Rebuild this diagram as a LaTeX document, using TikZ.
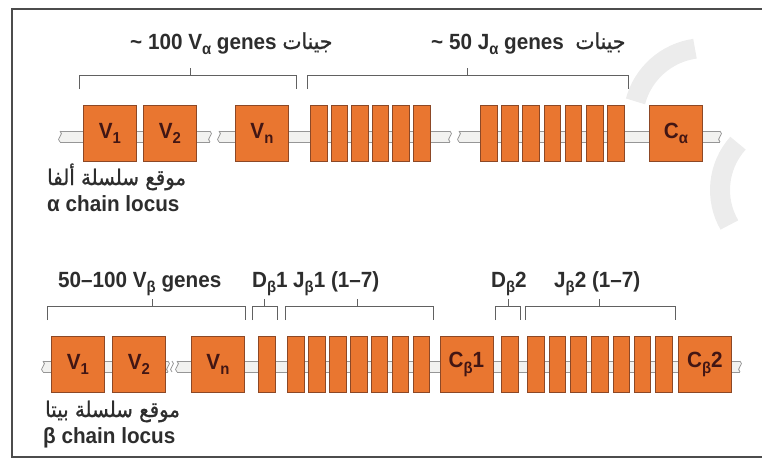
\documentclass[tikz,border=0pt]{standalone}
\usepackage{fontspec}
\usepackage{graphicx}
\setmainfont{Liberation Sans}[UprightFont=* Bold, FakeStretch=0.94]
\newfontfamily\arabicfont[Script=Arabic, FakeBold=1, FakeStretch=0.92]{DejaVu Sans}
\TeXXeTstate=1

\definecolor{geneorange}{RGB}{233,118,48}
\definecolor{geneedge}{RGB}{140,72,38}
\definecolor{labelink}{RGB}{66,22,20}
\definecolor{inkgray}{RGB}{45,45,45}
\definecolor{strandgray}{RGB}{150,150,150}
\definecolor{strandfill}{RGB}{242,242,240}
\definecolor{markgray}{RGB}{236,236,236}

% lowered, smaller index used in gene names
\newcommand\lsub[1]{\raisebox{-0.24em}{\scalebox{0.72}{#1}}}
% Arabic run inside a label
\newcommand\ar[1]{{\arabicfont\beginR #1\endR}}

% one stretch of DNA between x1 and x2, band from yt to yb, with broken ends
\newcommand\dnaseg[4]{%
  \fill[strandfill] (#1,#3) rectangle (#2,#4);
  \draw[strand] (#1,#3) -- (#2,#3) (#1,#4) -- (#2,#4);
  \draw[strand] (#1,#3) .. controls (#1+5,#3+3) and (#1-5,#4-3) .. (#1,#4);
  \draw[strand] (#2,#3) .. controls (#2+5,#3+3) and (#2-5,#4-3) .. (#2,#4);
}
% bracket over a gene group, with a tick in the middle
\newcommand\genebracket[4]{%
  \draw[bracket] (#1,#4+14) -- (#1,#4) -- (#2,#4) -- (#2,#4+14) (#3,#4) -- (#3,#4-7);
}

\begin{document}
\begin{tikzpicture}[x=1pt,y=-1pt,
  strand/.style={draw=strandgray, line width=0.8pt},
  bracket/.style={draw=inkgray!75, line width=0.9pt},
  gene/.style={draw=geneedge, fill=geneorange, line width=0.8pt, inner sep=0pt,
    minimum width=53pt, minimum height=56pt, anchor=north west,
    text=labelink, font=\fontsize{22}{22}\selectfont},
  seg/.style={gene, minimum width=16.5pt},
  lbl/.style={anchor=base west, inner sep=0pt, text=inkgray,
    font=\fontsize{22}{22}\selectfont},
  arlbl/.style={anchor=base west, inner sep=0pt, text=inkgray,
    font=\fontsize{21.5}{21.5}\selectfont},
  framel/.style={draw=inkgray!85, line width=1.3pt},
  watermark/.style={draw=markgray, line width=20pt}]
\useasboundingbox (0,0) rectangle (762,459);

% faint logo marks
\draw[watermark] (705,120) ++(195:72) arc[start angle=195, end angle=262, radius=72];
\draw[watermark] (790,190) ++(222:70) arc[start angle=222, end angle=150, radius=70];

% frame
\draw[framel] (762,9) -- (12,9) -- (12,457) -- (762,457);

% ---------- alpha chain locus ----------
\dnaseg{60}{210}{131}{142}
\dnaseg{219}{450}{131}{142}
\dnaseg{459}{720}{131}{142}

\node[gene] (av1) at (83,105) {V\lsub{1}};
\node[gene] (av2) at (143,105) {V\lsub{2}};
\node[gene] (avn) at (235,105) {V\lsub{n}};
\foreach \i/\x in {1/310,2/330.6,3/351.2,4/371.8,5/392.4,6/413}
  \node[seg] (aj\i) at (\x,105) {};
\foreach \i/\x in {7/480,8/501.2,9/522.4,10/543.6,11/564.8,12/586,13/607.2}
  \node[seg] (aj\i) at (\x,105) {};
\node[gene] (aca) at (649,105) {C\lsub{α}};

\genebracket{79}{296}{190}{75}
\genebracket{307}{628}{467}{75}

\node[lbl] (avlab) at (130,49) {\textasciitilde\ 100 V\lsub{α} genes \ar{جينات}};
\node[lbl] (ajlab) at (431,49) {\textasciitilde\ 50 J\lsub{α} genes\ \ \ar{جينات}};

\node[arlbl] (aloc1) at (47,185) {\ar{موقع سلسلة ألفا}};
\node[lbl] (aloc2) at (47,211) {α chain locus};

% ---------- beta chain locus ----------
\dnaseg{43}{168}{361}{372}
\dnaseg{177}{740}{361}{372}
\draw[strand] (172,361) .. controls (177,364) and (167,369) .. (172,372);

\node[gene] (bv1) at (51,336) {V\lsub{1}};
\node[gene] (bv2) at (112,336) {V\lsub{2}};
\node[gene] (bvn) at (191,336) {V\lsub{n}};
\node[seg] (bd1) at (258,336) {};
\foreach \i/\x in {1/287.3,2/308.2,3/329.1,4/350,5/370.9,6/391.8,7/412.7}
  \node[seg] (bja\i) at (\x,336) {};
\node[gene] (bc1) at (439.5,336) {C\lsub{β}1};
\node[seg] (bd2) at (501,336) {};
\foreach \i/\x in {1/527.3,2/548.6,3/569.9,4/591.2,5/612.5,6/633.8,7/655.1}
  \node[seg] (bjb\i) at (\x,336) {};
\node[gene] (bc2) at (678,336) {C\lsub{β}2};

\genebracket{47}{245}{152}{306}
\genebracket{252}{277}{264}{306}
\genebracket{285}{433}{357}{306}
\genebracket{495}{520}{508}{306}
\genebracket{525}{675}{599}{306}

\node[lbl] (bvlab) at (58,287) {50–100 V\lsub{β} genes};
\node[lbl] (bd1lab) at (252,287) {D\lsub{β}1};
\node[lbl] (bj1lab) at (293,287) {J\lsub{β}1 (1–7)};
\node[lbl] (bd2lab) at (491,287) {D\lsub{β}2};
\node[lbl] (bj2lab) at (554,287) {J\lsub{β}2 (1–7)};

\node[arlbl] (bloc1) at (45,417) {\ar{موقع سلسلة بيتا}};
\node[lbl] (bloc2) at (43,443) {β chain locus};
\end{tikzpicture}
\end{document}
